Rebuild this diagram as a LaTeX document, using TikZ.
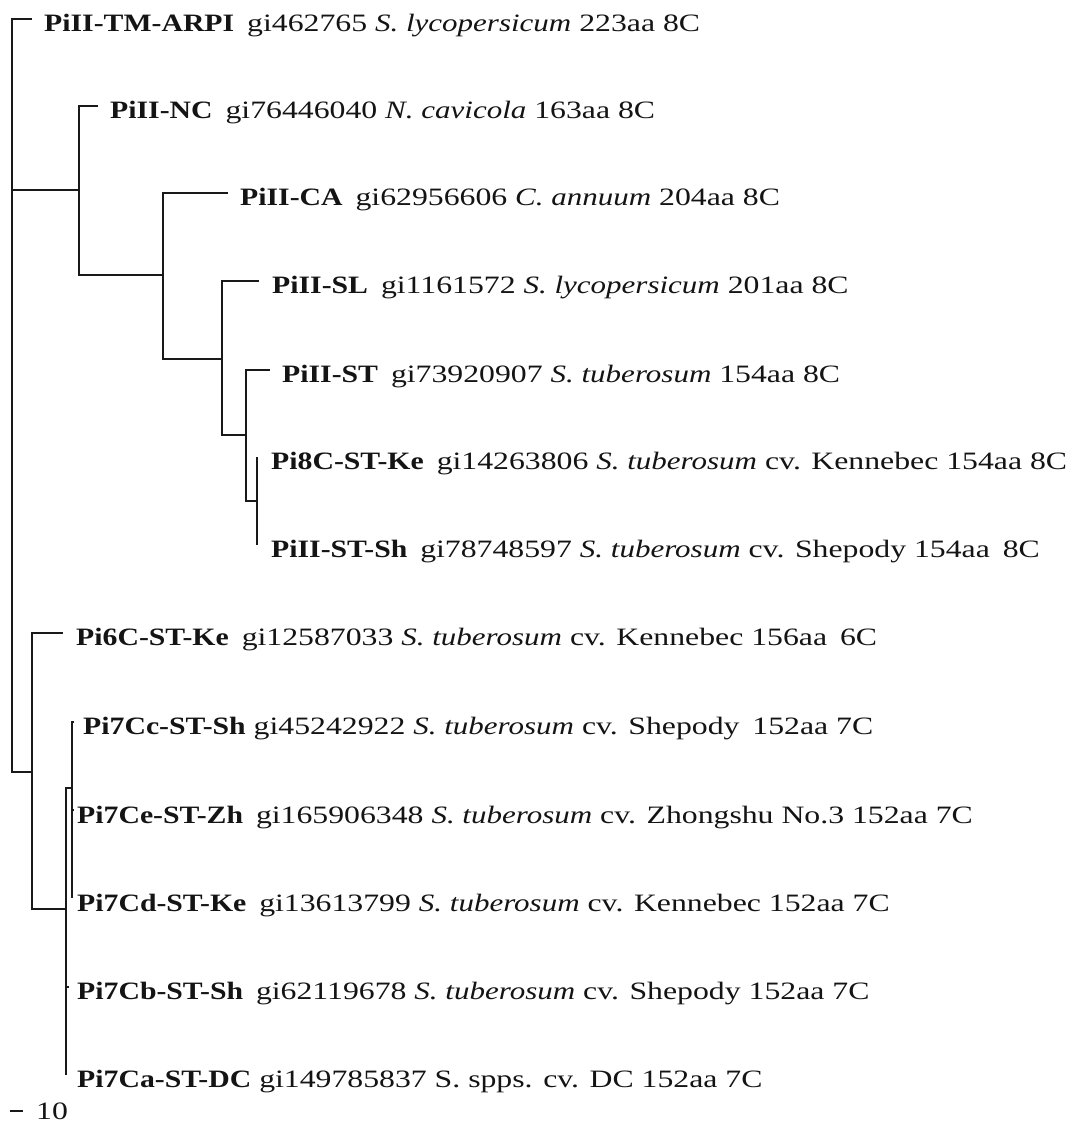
\documentclass[tikz,border=0pt]{standalone}
\usepackage{fontspec}
\setmainfont{Liberation Serif}[UprightFeatures={FakeStretch=1.27},BoldFeatures={FakeStretch=1.19},ItalicFeatures={FakeStretch=1.24}]
\newcommand{\gp}{\hspace{0.2em}}
\begin{document}
\begin{tikzpicture}[x=1pt,y=-1pt,
  br/.style={line width=2pt,draw=black!90},
  lab/.style={anchor=base west,inner sep=0pt,font=\fontsize{25}{28}\selectfont,text=black!92}]
\useasboundingbox[fill=white] (0,0) rectangle (1080,1125);
% internal nodes
\coordinate (root) at (12,400);
\coordinate (A) at (79,190);
\coordinate (B) at (163,275);
\coordinate (C) at (222,359);
\coordinate (D) at (246,435);
\coordinate (E) at (257,501);
\coordinate (F) at (32,772);
\coordinate (G) at (66,909);
\coordinate (H) at (72,788);
% leaves
\coordinate (l1) at (32,19);
\coordinate (l2) at (98,106);
\coordinate (l3) at (228,193);
\coordinate (l4) at (259,281);
\coordinate (l5) at (270,370);
\coordinate (l6) at (257,457);
\coordinate (l7) at (257,545);
\coordinate (l8) at (63,633);
\coordinate (l9) at (74,722);
\coordinate (l10) at (74,810);
\coordinate (l11) at (72,898);
\coordinate (l12) at (69,987);
\coordinate (l13) at (66,1075);
% branches
\draw[br] (root) |- (l1);
\draw[br] (root) |- (F);
\draw[br] (A) |- (l2);
\draw[br] (A) |- (B);
\draw[br] (root |- A) -- (A);
\draw[br] (B) |- (l3);
\draw[br] (B) |- (C);
\draw[br] (C) |- (l4);
\draw[br] (C) |- (D);
\draw[br] (D) |- (l5);
\draw[br] (D) |- (E);
\draw[br] (E) |- (l6);
\draw[br] (E) |- (l7);
\draw[br] (F) |- (l8);
\draw[br] (F) |- (G);
\draw[br] (G) |- (H);
\draw[br] (G) |- (l12);
\draw[br] (G) |- (l13);
\draw[br] (H) |- (l9);
\draw[br] (H) |- (l10);
\draw[br] (H) |- (l11);
% labels
\node[lab] (t1) at (44,31) {\textbf{PiII-TM-ARPI}\gp{} gi462765 \textit{S. lycopersicum} 223aa 8C};
\node[lab] (t2) at (110,118) {\textbf{PiII-NC}\gp{} gi76446040 \textit{N. cavicola} 163aa 8C};
\node[lab] (t3) at (240,205) {\textbf{PiII-CA}\gp{} gi62956606 \textit{C. annuum} 204aa 8C};
\node[lab] (t4) at (272,293) {\textbf{PiII-SL}\gp{} gi1161572 \textit{S. lycopersicum} 201aa 8C};
\node[lab] (t5) at (282,382) {\textbf{PiII-ST}\gp{} gi73920907 \textit{S. tuberosum} 154aa 8C};
\node[lab] (t6) at (271,469) {\textbf{Pi8C-ST-Ke}\gp{} gi14263806 \textit{S. tuberosum} cv. Kennebec 154aa 8C};
\node[lab] (t7) at (271,557) {\textbf{PiII-ST-Sh}\gp{} gi78748597 \textit{S. tuberosum} cv. Shepody 154aa\gp{} 8C};
\node[lab] (t8) at (76,645) {\textbf{Pi6C-ST-Ke}\gp{} gi12587033 \textit{S. tuberosum} cv. Kennebec 156aa\gp{} 6C};
\node[lab] (t9) at (83,734) {\textbf{Pi7Cc-ST-Sh} gi45242922 \textit{S. tuberosum} cv. Shepody\gp{} 152aa 7C};
\node[lab] (t10) at (77,823) {\textbf{Pi7Ce-ST-Zh}\gp{} gi165906348 \textit{S. tuberosum} cv. Zhongshu No.3 152aa 7C};
\node[lab] (t11) at (77,911) {\textbf{Pi7Cd-ST-Ke}\gp{} gi13613799 \textit{S. tuberosum} cv. Kennebec 152aa 7C};
\node[lab] (t12) at (77,999) {\textbf{Pi7Cb-ST-Sh}\gp{} gi62119678 \textit{S. tuberosum} cv. Shepody 152aa 7C};
\node[lab] (t13) at (77,1087) {\textbf{Pi7Ca-ST-DC} gi149785837 S. spps. cv. DC 152aa 7C};
% scale bar
\coordinate (s1) at (10,1111);
\coordinate (s2) at (23,1111);
\draw[line width=1.5pt,draw=black!90] (s1) -- (s2);
\node[lab] (sc) at (36,1119) {10};
\end{tikzpicture}
\end{document}
